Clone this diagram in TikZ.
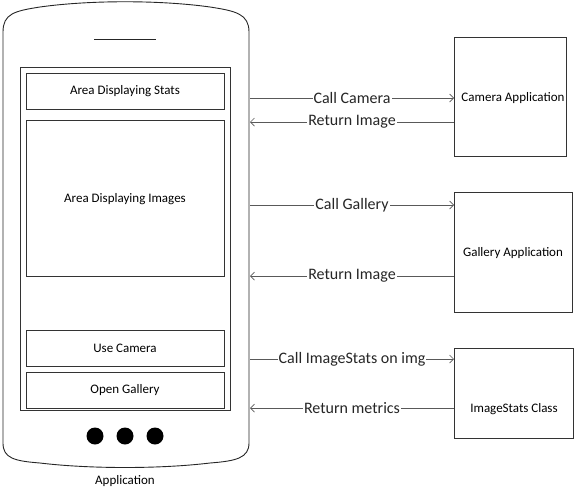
\documentclass[tikz,border=0pt]{standalone}
\usepackage{fontspec}
\setmainfont{Carlito}
\usetikzlibrary{arrows.meta}
\begin{document}
\begin{tikzpicture}[x=1pt,y=-1pt,
  box/.style={draw=black!80,line width=0.9pt,inner sep=0pt,font=\fontsize{13}{15}\selectfont},
  txt/.style={font=\fontsize{13}{15}\selectfont,inner sep=0pt},
  arr/.style={draw=black!65,line width=0.9pt,-{Straight Barb[length=4pt,width=8pt,line width=0.7pt]}},
  lbl/.style={fill=white,inner sep=1pt,font=\fontsize{16}{18}\selectfont,text=black!85},
  dot/.style={circle,fill=black,inner sep=0pt,minimum size=17pt}]
\useasboundingbox (0,0) rectangle (575,496);
% phone outline
\draw[line width=0.9pt,black!85] (3,32) .. controls (3,14) and (14,11) .. (40,7)
  .. controls (90,0) and (160,0) .. (210,7)
  .. controls (236,11) and (249,14) .. (249,32) -- (249,443)
  .. controls (249,458) and (236,461) .. (210,463)
  .. controls (160,469) and (90,469) .. (40,463)
  .. controls (14,461) and (3,458) .. (3,443) -- cycle;
\draw[line width=0.9pt,black!85] (94,39) -- (156,39);
% screen
\node[box,minimum width=210pt,minimum height=343pt] (screen) at (125,238.5) {};
\node[box,minimum width=198pt,minimum height=36pt] (stats) at (125,91) {Area Displaying Stats};
\node[box,minimum width=198pt,minimum height=156pt] (images) at (125,198) {};
\node[txt] (imgtext) at (125,199) {Area Displaying Images};
\node[box,minimum width=198pt,minimum height=36pt] (usecam) at (125,348) {Use Camera};
\node[box,minimum width=198pt,minimum height=36pt] (opengal) at (125,390) {Open Gallery};
\node[dot] (d1) at (95,436) {};
\node[dot] (d2) at (125,436) {};
\node[dot] (d3) at (155,436) {};
\node[txt] (app) at (125,481) {Application};
% right boxes
\node[box,minimum width=112pt,minimum height=119pt,anchor=north west] (cam) at (454,37) {};
\node[txt] (camt) at (513,98) {Camera Application};
\node[box,minimum width=118pt,minimum height=120pt,anchor=north west] (gal) at (454,192) {};
\node[txt] (galt) at (513,253) {Gallery Application};
\node[box,minimum width=119pt,minimum height=90pt,anchor=north west] (ist) at (454,348) {};
\node[txt] (istt) at (514,409) {ImageStats Class};
% phone edge coordinates
\coordinate (p1) at (250,98);
\coordinate (p2) at (250,122);
\coordinate (p3) at (250,205);
\coordinate (p4) at (250,276);
\coordinate (p5) at (250,359);
\coordinate (p6) at (250,408);
% arrows
\draw[arr] (p1) -- node[lbl,pos=0.5] {Call Camera} (cam.west |- p1);
\draw[arr] (cam.west |- p2) -- node[lbl,pos=0.5] {Return Image} (p2);
\draw[arr] (p3) -- node[lbl,pos=0.5] {Call Gallery} (gal.west |- p3);
\draw[arr] (gal.west |- p4) -- node[lbl,pos=0.5] {Return Image} (p4);
\draw[arr] (p5) -- node[lbl,pos=0.5] {Call ImageStats on img} (ist.west |- p5);
\draw[arr] (ist.west |- p6) -- node[lbl,pos=0.5] {Return metrics} (p6);
\end{tikzpicture}
\end{document}
